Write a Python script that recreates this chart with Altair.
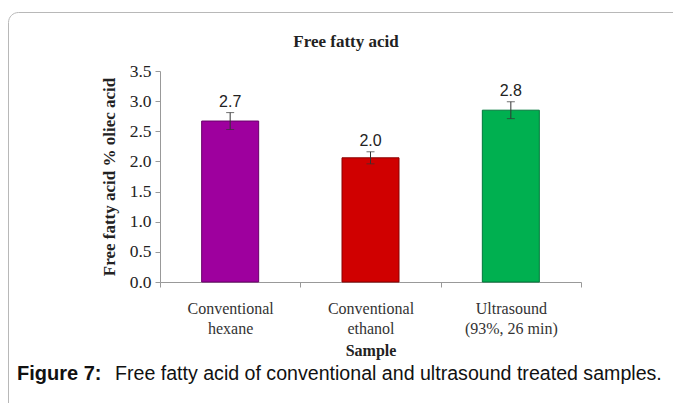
import altair as alt
import pandas as pd

samples = ["Conventional|hexane", "Conventional|ethanol", "Ultrasound|(93%, 26 min)"]
ffa = [2.67, 2.06, 2.85]
err = [0.14, 0.10, 0.14]
value_labels = ["2.7", "2.0", "2.8"]
bar_colors = ["#9E009E", "#D00000", "#00B050"]
bar_strokes = ["#6A006A", "#8A0000", "#00783A"]
y_ticks = [0.0, 0.5, 1.0, 1.5, 2.0, 2.5, 3.0, 3.5]

df = pd.DataFrame({
    "sample": samples, "ffa": ffa, "err": err, "label": value_labels,
    "color": bar_colors, "stroke": bar_strokes,
})
df["lo"] = df["ffa"] - df["err"]
df["hi"] = df["ffa"] + df["err"]

W, H = 421, 211
PL, PT = 152, 63
PR = 665 - PL - W
PB = 395 - PT - H

SERIF = "Liberation Serif"
SANS = "Liberation Sans"

xaxis = alt.Axis(
    title="Sample", labelExpr="split(datum.label, '|')", labelAngle=0,
    tickBand="extent", labelFont=SERIF, labelFontSize=16, labelColor="#333333",
    labelLineHeight=20, labelPadding=13, tickSize=5, tickColor="#999999",
    domainColor="#999999", titleFont=SERIF, titleFontSize=16, titleFontWeight="bold",
    titleColor="#222222", titlePadding=6,
)
xscale = alt.Scale(paddingInner=0, paddingOuter=0)
yaxis = alt.Axis(
    title="Free fatty acid % oliec acid", values=y_ticks, format=".1f", grid=False,
    labelOverlap=False,
    labelFont=SERIF, labelFontSize=17.5, labelColor="#222222", labelPadding=4,
    tickSize=5, tickColor="#999999", domainColor="#999999",
    titleFont=SERIF, titleFontSize=17, titleFontWeight="bold", titleColor="#222222",
    titlePadding=11,
)
yscale = alt.Scale(domain=[0, 3.5], nice=False)


def X():
    return alt.X("sample:N", sort=samples, scale=xscale, axis=xaxis)


def Y(field):
    return alt.Y(field, scale=yscale, axis=yaxis)


base = alt.Chart(df)

bars = base.mark_bar(width=57, strokeWidth=1).encode(
    x=X(), y=Y("ffa:Q"),
    color=alt.Color("color:N", scale=None),
    stroke=alt.Stroke("stroke:N", scale=None),
)
rules = base.mark_rule(color="#333333", strokeWidth=1).encode(
    x=X(), y=Y("lo:Q"), y2="hi:Q"
)
caps_hi = base.mark_tick(color="#333333", thickness=1, size=8, orient="horizontal").encode(
    x=X(), y=Y("hi:Q")
)
caps_lo = base.mark_tick(color="#333333", thickness=1, size=8, orient="horizontal").encode(
    x=X(), y=Y("lo:Q")
)
texts = base.mark_text(font=SANS, fontSize=16, color="#222222", baseline="bottom", dy=-3).encode(
    x=X(), y=Y("hi:Q"), text="label:N"
)

one = alt.Data(values=[{"k": 1}])
frame = alt.Chart(one).mark_rect(
    fillOpacity=0, stroke="#b8b8b8", strokeWidth=1, cornerRadius=10
).encode(
    x=alt.value(-PL + 0.5), x2=alt.value(W + PR + 60),
    y=alt.value(-59 + 0.5), y2=alt.value(H + PB + 60),
)
title = alt.Chart(one).mark_text(
    font=SERIF, fontSize=17, fontWeight="bold", color="#222222", align="center", baseline="middle"
).encode(x=alt.value(346 - 160), y=alt.value(42 - 71), text=alt.value("Free fatty acid"))
cap1 = alt.Chart(one).mark_text(
    font=SANS, fontSize=20, fontWeight="bold", color="#111111", align="left", baseline="alphabetic"
).encode(x=alt.value(17 - 160), y=alt.value(380 - 71), text=alt.value("Figure 7:"))
cap2 = alt.Chart(one).mark_text(
    font=SANS, fontSize=19.6, color="#111111", align="left", baseline="alphabetic"
).encode(x=alt.value(115 - 160), y=alt.value(380 - 71),
         text=alt.value("Free fatty acid of conventional and ultrasound treated samples."))

chart = alt.layer(frame, bars, rules, caps_hi, caps_lo, texts, title, cap1, cap2).properties(
    width=W, height=H,
    autosize=alt.AutoSizeParams(type="none"),
    padding={"left": PL, "top": PT, "right": PR, "bottom": PB},
    background="white",
).configure_view(stroke=None)

chart.save("out.html", embed_options={"renderer": "svg", "actions": False})
